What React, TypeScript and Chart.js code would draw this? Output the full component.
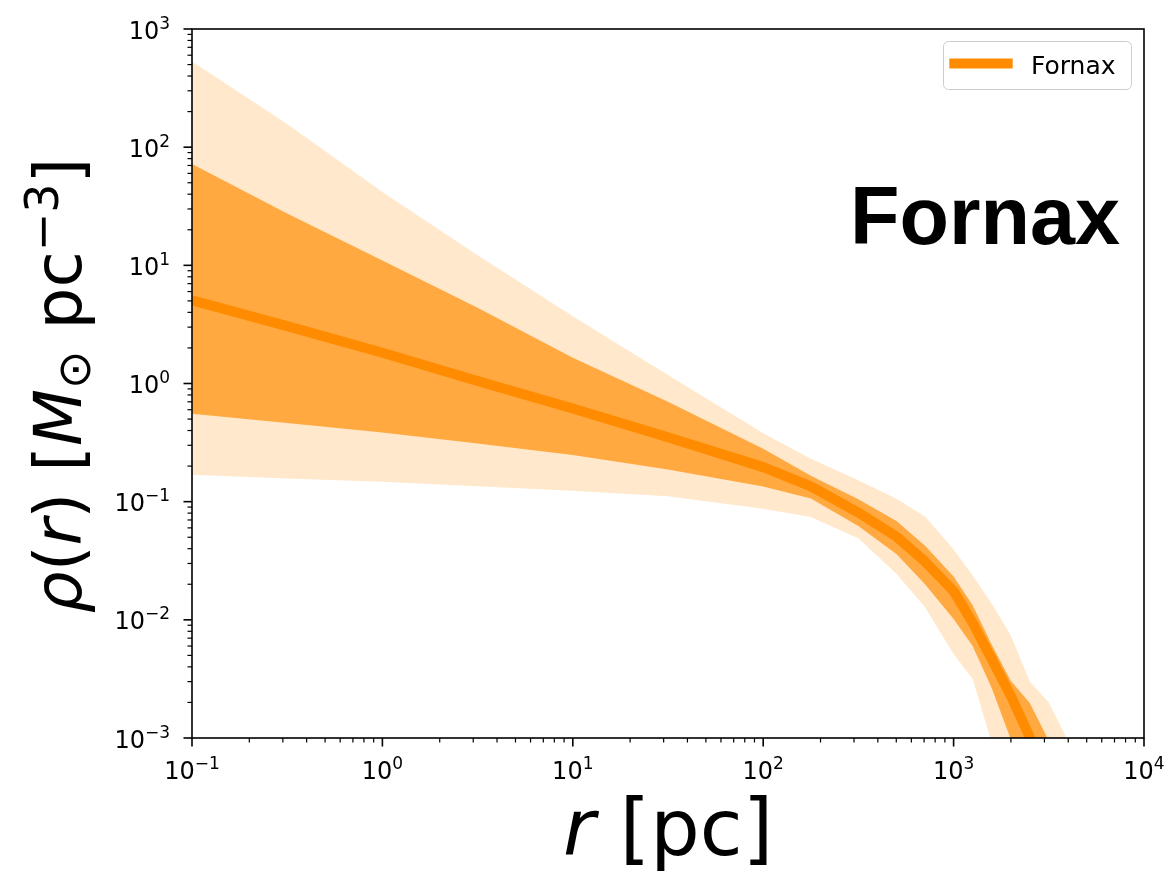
import React, { useEffect, useRef } from "react";
import { Chart, registerables } from "chart.js";

Chart.register(...registerables);

// ---- data ----
const radiusPc = [0.1, 0.316, 1, 3.16, 10, 31.6, 100, 178, 316, 501, 708, 1000, 1259, 1585, 1995, 2512, 3162, 3981, 5012];
const medianDensity = [5.05, 3.06, 1.82, 1.05, 0.614, 0.351, 0.196, 0.1346, 0.0809, 0.0506, 0.0311, 0.0175, 0.00944, 0.00465, 0.00228, 0.00102, 0.0004, 0.00016, 0.00006];
const upper68 = [72.1, 27.4, 11.0, 4.38, 1.65, 0.701, 0.28, 0.166, 0.105, 0.0686, 0.0423, 0.0233, 0.0133, 0.00615, 0.00305, 0.00198, 0.00095, 0.0004, 0.00016];
const lower68 = [0.555, 0.463, 0.385, 0.31, 0.248, 0.1875, 0.1346, 0.1064, 0.0622, 0.0361, 0.02, 0.01014, 0.00601, 0.00265, 0.00098, 0.0004, 0.00016, 0.00006, 0.000025];
const upper95 = [530, 157, 41.8, 12.2, 3.71, 1.18, 0.38, 0.231, 0.152, 0.106, 0.075, 0.0394, 0.0237, 0.0137, 0.0074, 0.003, 0.002, 0.00095, 0.0004];
const lower95 = [0.1687, 0.1574, 0.1472, 0.1352, 0.1239, 0.1109, 0.0869, 0.0743, 0.0491, 0.0245, 0.0128, 0.00515, 0.00315, 0.00091, 0.00025, 0.0001, 0.00004, 0.000016, 0.000006];

const xTickExponents = [-1, 0, 1, 2, 3, 4];
const yTickExponents = [-3, -2, -1, 0, 1, 2, 3];
const minorMultipliers = [2, 3, 4, 5, 6, 7, 8, 9];
const seriesLabel = "Fornax";
const panelTitle = "Fornax";

const DV = '"DejaVu Sans"';

type Run = { t: string; font: string; dy?: number };

function drawRuns(ctx: CanvasRenderingContext2D, runs: Run[], cx: number, by: number, align: "center" | "right" | "left" = "center") {
  ctx.textAlign = "left";
  ctx.textBaseline = "alphabetic";
  let total = 0;
  const widths = runs.map((r) => {
    ctx.font = r.font;
    const w = ctx.measureText(r.t).width;
    total += w;
    return w;
  });
  let x = align === "center" ? cx - total / 2 : align === "right" ? cx - total : cx;
  runs.forEach((r, i) => {
    ctx.font = r.font;
    ctx.fillText(r.t, x, by + (r.dy || 0));
    x += widths[i];
  });
  return total;
}

function powRuns(e: number): Run[] {
  const s = e < 0 ? "\u2212" + Math.abs(e) : String(e);
  return [
    { t: "10", font: `24px ${DV}` },
    { t: s, font: `17px ${DV}`, dy: -10 },
  ];
}

const decorPlugin = {
  id: "decor",
  afterDraw(chart: any) {
    const { ctx, chartArea: a } = chart;
    const xs = chart.scales.x;
    const ys = chart.scales.y;
    ctx.save();
    ctx.fillStyle = "#000";
    ctx.strokeStyle = "#000";

    // spines
    ctx.lineWidth = 1.6;
    ctx.strokeRect(a.left, a.top, a.right - a.left, a.bottom - a.top);

    // x ticks
    xTickExponents.forEach((e) => {
      const px = xs.getPixelForValue(Math.pow(10, e));
      ctx.lineWidth = 1.6;
      ctx.beginPath();
      ctx.moveTo(px, a.bottom);
      ctx.lineTo(px, a.bottom + 8.5);
      ctx.stroke();
      drawRuns(ctx, powRuns(e), px, a.bottom + 41, "center");
    });
    for (let i = 0; i < xTickExponents.length - 1; i++) {
      minorMultipliers.forEach((m) => {
        const px = xs.getPixelForValue(m * Math.pow(10, xTickExponents[i]));
        ctx.lineWidth = 1.2;
        ctx.beginPath();
        ctx.moveTo(px, a.bottom);
        ctx.lineTo(px, a.bottom + 4.5);
        ctx.stroke();
      });
    }

    // y ticks
    yTickExponents.forEach((e) => {
      const py = ys.getPixelForValue(Math.pow(10, e));
      ctx.lineWidth = 1.6;
      ctx.beginPath();
      ctx.moveTo(a.left, py);
      ctx.lineTo(a.left - 8.5, py);
      ctx.stroke();
      drawRuns(ctx, powRuns(e), a.left - 22, py + 9.5, "right");
    });
    for (let i = 0; i < yTickExponents.length - 1; i++) {
      minorMultipliers.forEach((m) => {
        const py = ys.getPixelForValue(m * Math.pow(10, yTickExponents[i]));
        ctx.lineWidth = 1.2;
        ctx.beginPath();
        ctx.moveTo(a.left, py);
        ctx.lineTo(a.left - 4.5, py);
        ctx.stroke();
      });
    }

    // x title
    drawRuns(
      ctx,
      [
        { t: "r", font: `italic 78px ${DV}` },
        { t: " [pc]", font: `78px ${DV}` },
      ],
      (a.left + a.right) / 2,
      855,
      "center"
    );

    // y title (rotated)
    ctx.save();
    ctx.translate(81, (a.top + a.bottom) / 2 + 2);
    ctx.rotate(-Math.PI / 2);
    const S = 66;
    const sub = Math.round(S * 0.7);
    drawRuns(
      ctx,
      [
        { t: "\u03c1", font: `italic ${S}px ${DV}` },
        { t: "(", font: `${S}px ${DV}` },
        { t: "r", font: `italic ${S}px ${DV}` },
        { t: ")", font: `${S}px ${DV}` },
        { t: " [", font: `${S}px ${DV}` },
        { t: "M", font: `italic ${S}px ${DV}` },
        { t: "\u2299", font: `${sub}px ${DV}`, dy: 9 },
        { t: " pc", font: `${S}px ${DV}` },
        { t: "\u22123", font: `${sub}px ${DV}`, dy: -23 },
        { t: "]", font: `${S}px ${DV}` },
      ],
      0,
      0,
      "center"
    );
    ctx.restore();

    // panel title
    ctx.font = `bold 81px "Liberation Sans", Arial, sans-serif`;
    ctx.textAlign = "right";
    ctx.textBaseline = "alphabetic";
    ctx.fillText(panelTitle, 1120, 244);

    // legend
    const lx = 943.5, ly = 41.5, lw = 188, lh = 48, r = 5;
    ctx.beginPath();
    ctx.moveTo(lx + r, ly);
    ctx.lineTo(lx + lw - r, ly);
    ctx.arcTo(lx + lw, ly, lx + lw, ly + r, r);
    ctx.lineTo(lx + lw, ly + lh - r);
    ctx.arcTo(lx + lw, ly + lh, lx + lw - r, ly + lh, r);
    ctx.lineTo(lx + r, ly + lh);
    ctx.arcTo(lx, ly + lh, lx, ly + lh - r, r);
    ctx.lineTo(lx, ly + r);
    ctx.arcTo(lx, ly, lx + r, ly, r);
    ctx.closePath();
    ctx.fillStyle = "rgba(255,255,255,0.8)";
    ctx.fill();
    ctx.strokeStyle = "#cccccc";
    ctx.lineWidth = 1;
    ctx.stroke();
    const ds = chart.data.datasets[0];
    ctx.strokeStyle = ds.borderColor;
    ctx.lineWidth = 10;
    ctx.lineCap = "butt";
    ctx.beginPath();
    ctx.moveTo(949.3, 63.5);
    ctx.lineTo(1012.7, 63.5);
    ctx.stroke();
    ctx.fillStyle = "#000";
    ctx.font = `25px ${DV}`;
    ctx.textAlign = "left";
    ctx.fillText(ds.label, 1031, 73.5);

    ctx.restore();
  },
};

export default function App() {
  const ref = useRef<HTMLCanvasElement | null>(null);

  useEffect(() => {
    if (!ref.current) return;
    const pts = (ys: number[]) => radiusPc.map((r, i) => ({ x: r, y: ys[i] }));
    const band = (ys: number[], fill: any, color: string) => ({
      label: "",
      data: pts(ys),
      borderWidth: 0,
      borderColor: "rgba(0,0,0,0)",
      backgroundColor: color,
      pointRadius: 0,
      fill,
      tension: 0,
      clip: 0,
    });
    const chart = new Chart(ref.current, {
      type: "line",
      data: {
        datasets: [
          {
            label: seriesLabel,
            data: pts(medianDensity),
            borderColor: "#FF8C00",
            backgroundColor: "#FF8C00",
            borderWidth: 10,
            borderJoinStyle: "round",
            borderCapStyle: "butt",
            pointRadius: 0,
            fill: false,
            tension: 0,
            clip: 0,
          } as any,
          band(upper68, "+1", "#FFA940"),
          band(lower68, false, "#FFA940"),
          band(upper95, "+1", "#FFE8CC"),
          band(lower95, false, "#FFE8CC"),
        ],
      },
      options: {
        responsive: false,
        devicePixelRatio: 1,
        animation: false,
        layout: { padding: { left: 192, right: 29, top: 29, bottom: 133 } },
        scales: {
          x: { type: "logarithmic", min: 0.1, max: 10000, display: false },
          y: { type: "logarithmic", min: 0.001, max: 1000, display: false },
        },
        plugins: {
          legend: { display: false },
          tooltip: { enabled: false },
        },
        events: [],
      },
      plugins: [decorPlugin],
    } as any);
    return () => chart.destroy();
  }, []);

  return (
    <div style={{ position: "absolute", left: 0, top: 0, width: 1173, height: 871, background: "#fff" }}>
      <canvas ref={ref} width={1173} height={871} style={{ width: 1173, height: 871, display: "block" }} />
    </div>
  );
}
